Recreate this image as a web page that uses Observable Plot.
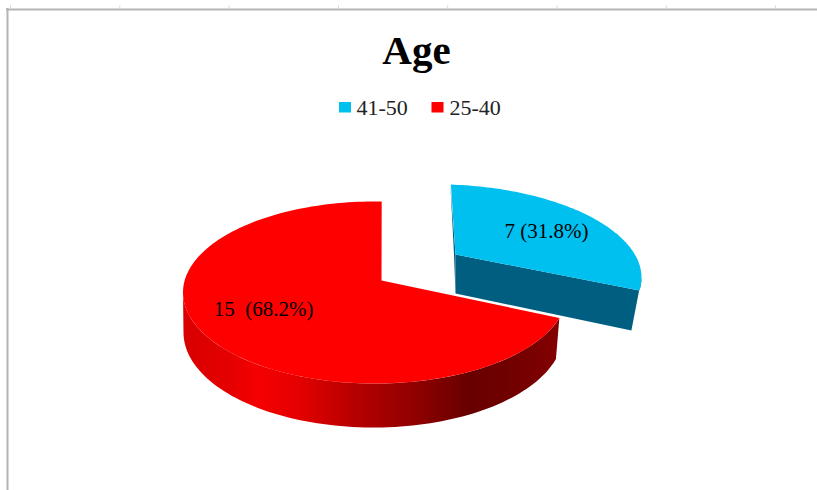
<!DOCTYPE html>
<html>
<head>
<meta charset="utf-8">
<script src="https://cdn.jsdelivr.net/npm/d3@7"></script>
<script src="https://cdn.jsdelivr.net/npm/@observablehq/plot@0.6"></script>
<style>html,body{margin:0;padding:0;background:#fff}svg{display:block}</style>
</head>
<body>
<div id="chart"></div>
<script>
const categories = ["41-50", "25-40"];
const counts = [7, 15];
const shares = [31.8, 68.2];
const labels = ["7 (31.8%)", "15  (68.2%)"];
const colors = ["#00c0f0", "#ff0000"];
const frameTicks = [10, 119.3, 228.6, 337.9, 447.2, 556.5, 665.8, 775.1];

const total = d3.sum(counts);
const deg = Math.PI / 180;
const sweepOf = i => counts[i] / total * 360;

// view of the tilted disc: ellipse centres and radii of each exploded slice
function rim(e, from, to, n = 90) {
  return d3.range(n + 1).map(i => {
    const t = (from + (to - from) * i / n) * deg;
    return {x: e.cx + e.rx * Math.cos(t), y: e.cy - e.ry * Math.sin(t) + e.k * Math.cos(t)};
  });
}

const redTop = {cx: 374.5, cy: 292, rx: 192, ry: 91, k: 0};
const redBase = {cx: 373, cy: 332, rx: 190, ry: 95, k: 0};
const blueTop = {cx: 447, cy: 272, rx: 194, ry: 88, k: 5};
const redApex = {x: 381, y: 280};
const blueApex = {x: 455, y: 254};
const blueDrop = 39;

const redStart = 88, redEnd = redStart + sweepOf(1) * 1.042;
const blueStart = 89, blueEnd = blueStart - sweepOf(0) * 0.851;

const redFace = [redApex, ...rim(redTop, redStart, redEnd, 180)];
const redWall = [...rim(redBase, 180, redEnd), ...rim(redTop, 180, redEnd).reverse()];
const blueFace = [blueApex, ...rim(blueTop, blueStart, blueEnd)];
const blueRimEnd = rim(blueTop, blueEnd + 8, blueEnd, 8);
const blueBaseEnd = rim({...blueTop, cx: blueTop.cx - 8, cy: blueTop.cy + blueDrop + 1}, blueEnd, blueEnd, 1)[0];
const blueWall = [blueApex, ...blueRimEnd.slice().reverse(), blueBaseEnd, {x: blueApex.x, y: blueApex.y + blueDrop}];
const blueStrip = [blueApex, {x: blueApex.x, y: blueApex.y + blueDrop}, {x: blueApex.x - 1.5, y: blueApex.y}, {x: blueFace[1].x - 0.5, y: blueFace[1].y}];

const gradient = () => {
  const ns = "http://www.w3.org/2000/svg";
  const defs = document.createElementNS(ns, "defs");
  const g = document.createElementNS(ns, "linearGradient");
  g.setAttribute("id", "wallShade");
  g.setAttribute("x1", "0"); g.setAttribute("x2", "1"); g.setAttribute("y1", "0"); g.setAttribute("y2", "0");
  for (const [o, c] of [[0, "#d80000"], [0.12, "#e40000"], [0.2, "#f50000"], [0.3, "#e60000"], [0.45, "#b80000"], [0.6, "#940000"], [0.76, "#680000"], [0.88, "#720000"], [1, "#840000"]]) {
    const s = document.createElementNS(ns, "stop");
    s.setAttribute("offset", o); s.setAttribute("stop-color", c);
    g.appendChild(s);
  }
  defs.appendChild(g);
  return defs;
};

const shape = (pts, fill) => Plot.line(pts, {x: "x", y: "y", fill, stroke: "none", curve: "linear"});

const legend = [
  {i: 0, sx1: 339, tx: 356},
  {i: 1, sx1: 431.5, tx: 449}
];

const chart = Plot.plot({
  width: 817,
  height: 490,
  margin: 0,
  x: {domain: [0, 817], range: [0, 817], axis: null},
  y: {domain: [0, 490], range: [0, 490], axis: null},
  style: {background: "#fff", whiteSpace: "pre"},
  marks: [
    gradient,
    Plot.ruleX(frameTicks, {y1: 5, y2: 8, stroke: "#dcdcdc", strokeWidth: 1}),
    Plot.ruleY([9], {x1: 6, x2: 817, stroke: "#b4b4b4", strokeWidth: 2}),
    Plot.ruleX([7], {y1: 8, y2: 490, stroke: "#b4b4b4", strokeWidth: 2}),
    Plot.text(["Age"], {x: 416, y: 50, text: d => d, fontFamily: "Liberation Serif", fontWeight: "bold", fontSize: 41, fill: "#000", textAnchor: "middle"}),
    Plot.rect(legend, {x1: d => d.sx1, x2: d => d.sx1 + 12, y1: 102, y2: 112.5, fill: d => colors[d.i], inset: 0}),
    Plot.text(legend, {x: d => d.tx, y: 107, text: d => categories[d.i], fontFamily: "Liberation Serif", fontSize: 22, fill: "#222", textAnchor: "start"}),
    shape(redWall, "url(#wallShade)"),
    shape(redFace, colors[1]),
    shape(blueStrip, "#005f80"),
    shape(blueWall, "#005f80"),
    shape(blueFace, colors[0]),
    Plot.text([0, 1], {x: [546, 263], y: [231, 309], text: i => labels[i], fontFamily: "Liberation Serif", fontSize: 21, fill: "#000", textAnchor: "middle"})
  ]
});
document.getElementById("chart").appendChild(chart);
</script>
</body>
</html>
